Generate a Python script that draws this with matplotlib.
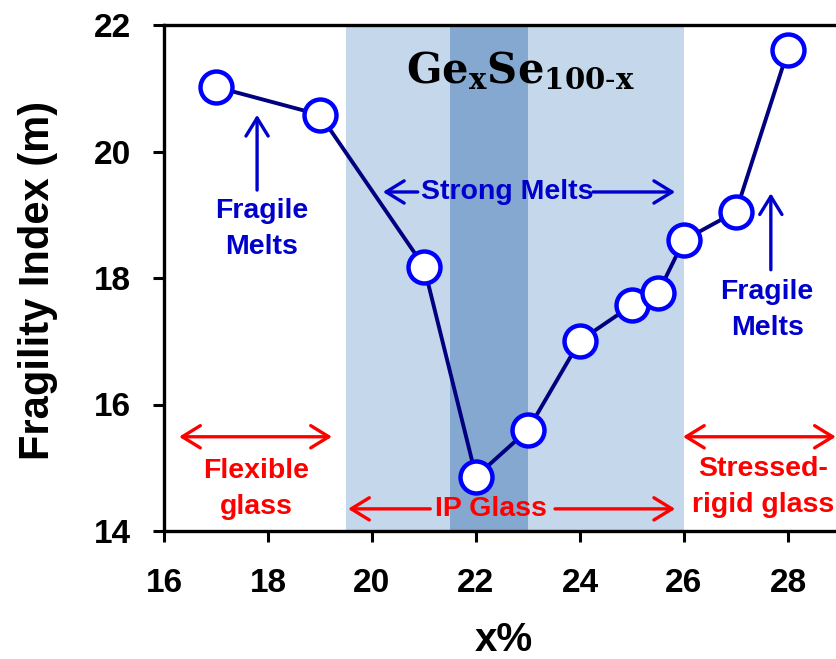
import matplotlib
matplotlib.use("Agg")
import matplotlib.pyplot as plt

# ---- data ----
x_pct = [17, 19, 21, 22, 23, 24, 25, 25.5, 26, 27, 28]
fragility = [21.02, 20.58, 18.18, 14.86, 15.60, 17.01, 17.57, 17.76, 18.60, 19.05, 21.60]

xticks = [16, 18, 20, 22, 24, 26, 28]
yticks = [14, 16, 18, 20, 22]
ip_window = (19.5, 26.0)
dark_window = (21.5, 23.0)

W, H = 837, 659
fig = plt.figure(figsize=(W / 100, H / 100), dpi=100)
left_px, right_px, top_px, bottom_px = 164, 837, 25, 531
ax = fig.add_axes([left_px / W, 1 - bottom_px / H,
                   (right_px - left_px) / W, (bottom_px - top_px) / H])

xmax = 16 + (right_px - left_px) / 52.0
ax.set_xlim(16, xmax)
ax.set_ylim(14, 22)

ax.axvspan(*ip_window, color="#c5d7ea", zorder=0, lw=0)
ax.axvspan(*dark_window, color="#84a8d0", zorder=0.5, lw=0)

ax.plot(x_pct, fragility, color="#000080", lw=2.8, marker="o", ms=23,
        mfc="white", mec="#0000ff", mew=3.2, zorder=5)

sans = ["Liberation Sans", "DejaVu Sans"]

ax.set_xticks(xticks)
ax.set_yticks(yticks)
ax.set_xticklabels([str(v) for v in xticks], fontsize=24, fontweight="bold", family=sans)
ax.set_yticklabels([str(v) for v in yticks], fontsize=24, fontweight="bold", family=sans)
ax.tick_params(axis="both", direction="out", length=8, width=2.2)
ax.tick_params(axis="y", pad=16)
ax.tick_params(axis="x", pad=19)

for s in ["left", "top", "bottom"]:
    ax.spines[s].set_linewidth(2.4)
ax.spines["right"].set_visible(False)

ax.set_xlabel("x%", fontsize=29, fontweight="bold", family=sans)
ax.set_ylabel("Fragility Index (m)", fontsize=30, fontweight="bold", family=sans)
ax.xaxis.set_label_coords(0.505, -0.178)
ax.yaxis.set_label_coords(-0.158, 0.496)

blue = "#0000cc"
red = "#ff0000"
afs = 20.5
ls = 1.5

# title
ax.text(22.85, 21.08, "Ge$_\\mathregular{x}$Se$_\\mathregular{100\\text{-}x}$",
        fontsize=30, fontweight="bold", family=["DejaVu Serif"],
        ha="center", va="baseline", zorder=6)

head = "head_length=1.3,head_width=0.8"
blue_arrow = dict(arrowstyle="->," + head, color=blue, lw=2.4, shrinkA=0, shrinkB=0)
red_arrow = dict(arrowstyle="->," + head, color=red, lw=2.4, shrinkA=0, shrinkB=0)
red_double = dict(arrowstyle="<->," + head, color=red, lw=2.4, shrinkA=0, shrinkB=0)

# Fragile melts (left)
ax.annotate("", xy=(17.79, 20.58), xytext=(17.79, 19.39), arrowprops=blue_arrow, zorder=6)
ax.text(17.88, 18.77, "Fragile\nMelts", color=blue, fontsize=afs, fontweight="bold",
        family=sans, ha="center", va="center", linespacing=ls, zorder=6)

# Fragile melts (right)
ax.annotate("", xy=(27.67, 19.34), xytext=(27.67, 18.13), arrowprops=blue_arrow, zorder=6)
ax.text(27.6, 17.49, "Fragile\nMelts", color=blue, fontsize=afs, fontweight="bold",
        family=sans, ha="center", va="center", linespacing=ls, zorder=6)

# Strong melts
ax.text(22.61, 19.36, "Strong Melts", color=blue, fontsize=afs, fontweight="bold",
        family=sans, ha="center", va="center", zorder=6)
ax.annotate("", xy=(20.21, 19.36), xytext=(20.88, 19.36), arrowprops=blue_arrow, zorder=6)
ax.annotate("", xy=(25.83, 19.36), xytext=(24.25, 19.36), arrowprops=blue_arrow, zorder=6)

# Flexible glass
ax.annotate("", xy=(16.29, 15.49), xytext=(19.23, 15.49), arrowprops=red_double, zorder=6)
ax.text(17.77, 14.66, "Flexible\nglass", color=red, fontsize=afs, fontweight="bold",
        family=sans, ha="center", va="center", linespacing=ls, zorder=6)

# IP glass
ax.text(22.29, 14.35, "IP Glass", color=red, fontsize=afs, fontweight="bold",
        family=sans, ha="center", va="center", zorder=6)
ax.annotate("", xy=(19.54, 14.35), xytext=(21.12, 14.35), arrowprops=red_arrow, zorder=6)
ax.annotate("", xy=(25.83, 14.35), xytext=(23.52, 14.35), arrowprops=red_arrow, zorder=6)

# Stressed-rigid glass
ax.annotate("", xy=(25.98, 15.49), xytext=(28.92, 15.49), arrowprops=red_double, zorder=6)
ax.text(27.52, 14.70, "Stressed-\nrigid glass", color=red, fontsize=afs, fontweight="bold",
        family=sans, ha="center", va="center", linespacing=ls, zorder=6)

fig.savefig("out.png", dpi=100)
